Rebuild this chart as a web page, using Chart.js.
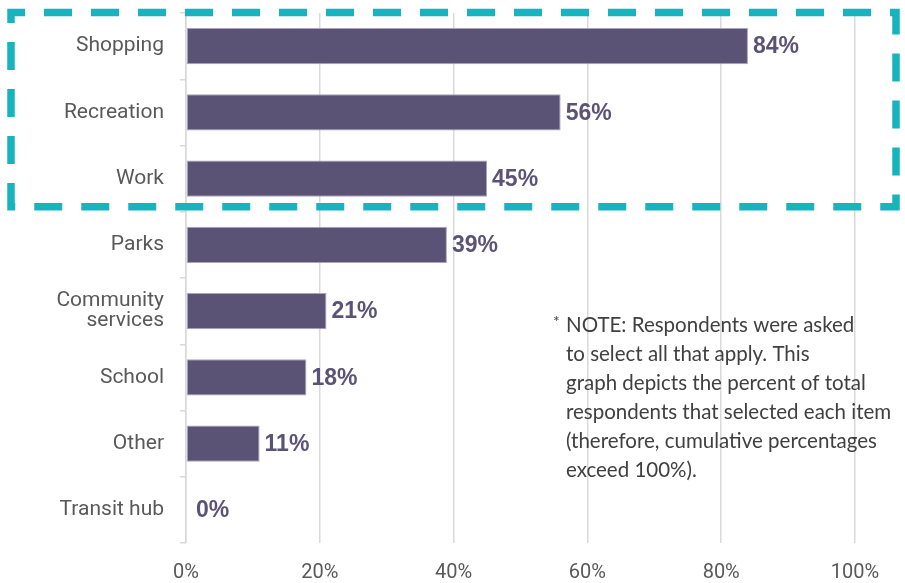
<!DOCTYPE html>
<html>
<head>
<meta charset="utf-8">
<script src="https://cdn.jsdelivr.net/npm/chart.js@4.4.0/dist/chart.umd.min.js"></script>
<style>
  html, body { margin: 0; padding: 0; background: #fff; }
  #wrap { width: 905px; height: 583px; position: relative; }
</style>
</head>
<body>
<div id="wrap"><canvas id="destinos"></canvas></div>
<script>
// datos
const categorias = ['Shopping', 'Recreation', 'Work', 'Parks', ['Community', 'services'], 'School', 'Other', 'Transit hub'];
const porcentajes = [84, 56, 45, 39, 21, 18, 11, 0];
const ticksX = [0, 20, 40, 60, 80, 100];
const nota = [
    'NOTE: Respondents were asked',
    'to select all that apply. This',
    'graph depicts the percent of total',
    'respondents that selected each item',
    '(therefore, cumulative percentages',
    'exceed 100%).'
];

const colorBarra = '#5a5376';
const colorTexto = '#595959';
const colorGrid = '#d9d9d9';

// etiquetas de valor al final de cada barra
const etiquetasValor = {
    id: 'etiquetasValor',
    afterDatasetsDraw(chart) {
        const ctx = chart.ctx;
        const meta = chart.getDatasetMeta(0);
        ctx.save();
        ctx.font = 'bold 23px "Liberation Sans", Arial, sans-serif';
        ctx.fillStyle = colorBarra;
        ctx.textAlign = 'left';
        ctx.textBaseline = 'middle';
        meta.data.forEach(function (bar, i) {
            const extra = porcentajes[i] === 0 ? 10 : 5;
            ctx.fillText(porcentajes[i] + '%', bar.x + extra, bar.y + 1);
        });
        ctx.restore();
    }
};

// recuadro punteado y nota
const recuadroNota = {
    id: 'recuadroNota',
    afterDraw(chart) {
        const ctx = chart.ctx;
        const y = chart.scales.y;
        const top = 12.5;
        const bottom = (y.getPixelForValue(2) + y.getPixelForValue(3)) / 2 - 5;
        ctx.save();
        ctx.strokeStyle = '#17b4bf';
        ctx.lineWidth = 7.5;
        ctx.setLineDash([28, 19]);
        ctx.lineDashOffset = 14;
        ctx.strokeRect(11, top, chart.width - 20, bottom - top);
        ctx.restore();

        ctx.save();
        ctx.fillStyle = '#404040';
        ctx.textBaseline = 'middle';
        ctx.textAlign = 'left';
        ctx.font = '16px Lato, sans-serif';
        ctx.fillText('*', 553, 322);
        ctx.font = '20.5px Lato, "Open Sans", sans-serif';
        nota.forEach(function (linea, i) {
            ctx.fillText(linea, 566, 325 + i * 29);
        });
        ctx.restore();
    }
};

new Chart(document.getElementById('destinos'), {
    type: 'bar',
    data: {
        labels: categorias,
        datasets: [{
            data: porcentajes,
            backgroundColor: colorBarra,
            borderColor: '#a9a5bd',
            borderWidth: 1,
            borderSkipped: false,
            categoryPercentage: 1,
            barPercentage: 0.55
        }]
    },
    options: {
        indexAxis: 'y',
        responsive: true,
        maintainAspectRatio: false,
        animation: false,
        layout: { padding: { top: 13, right: 50, left: 0, bottom: 0 } },
        plugins: {
            legend: { display: false },
            tooltip: { enabled: false }
        },
        scales: {
            x: {
                min: 0,
                max: 100,
                afterBuildTicks(scale) {
                    scale.ticks = ticksX.map(v => ({ value: v }));
                },
                afterFit(scale) { scale.height = 40; },
                ticks: {
                    callback: v => v + '%',
                    color: colorTexto,
                    font: { family: 'Roboto, sans-serif', size: 20 },
                    padding: 18,
                    maxRotation: 0
                },
                grid: { color: colorGrid, lineWidth: 1.5, drawTicks: false },
                border: { display: false }
            },
            y: {
                afterFit(scale) {
                    scale.width = 186;
                    scale.paddingTop = 0;
                    scale.paddingBottom = 0;
                },
                ticks: {
                    color: colorTexto,
                    font: { family: 'Roboto, sans-serif', size: 21, lineHeight: 0.95 },
                    padding: 16
                },
                grid: { drawOnChartArea: false, tickLength: 6, color: colorGrid, lineWidth: 1.5 },
                border: { color: colorGrid, width: 1.5 }
            }
        }
    },
    plugins: [etiquetasValor, recuadroNota]
});
</script>
</body>
</html>
